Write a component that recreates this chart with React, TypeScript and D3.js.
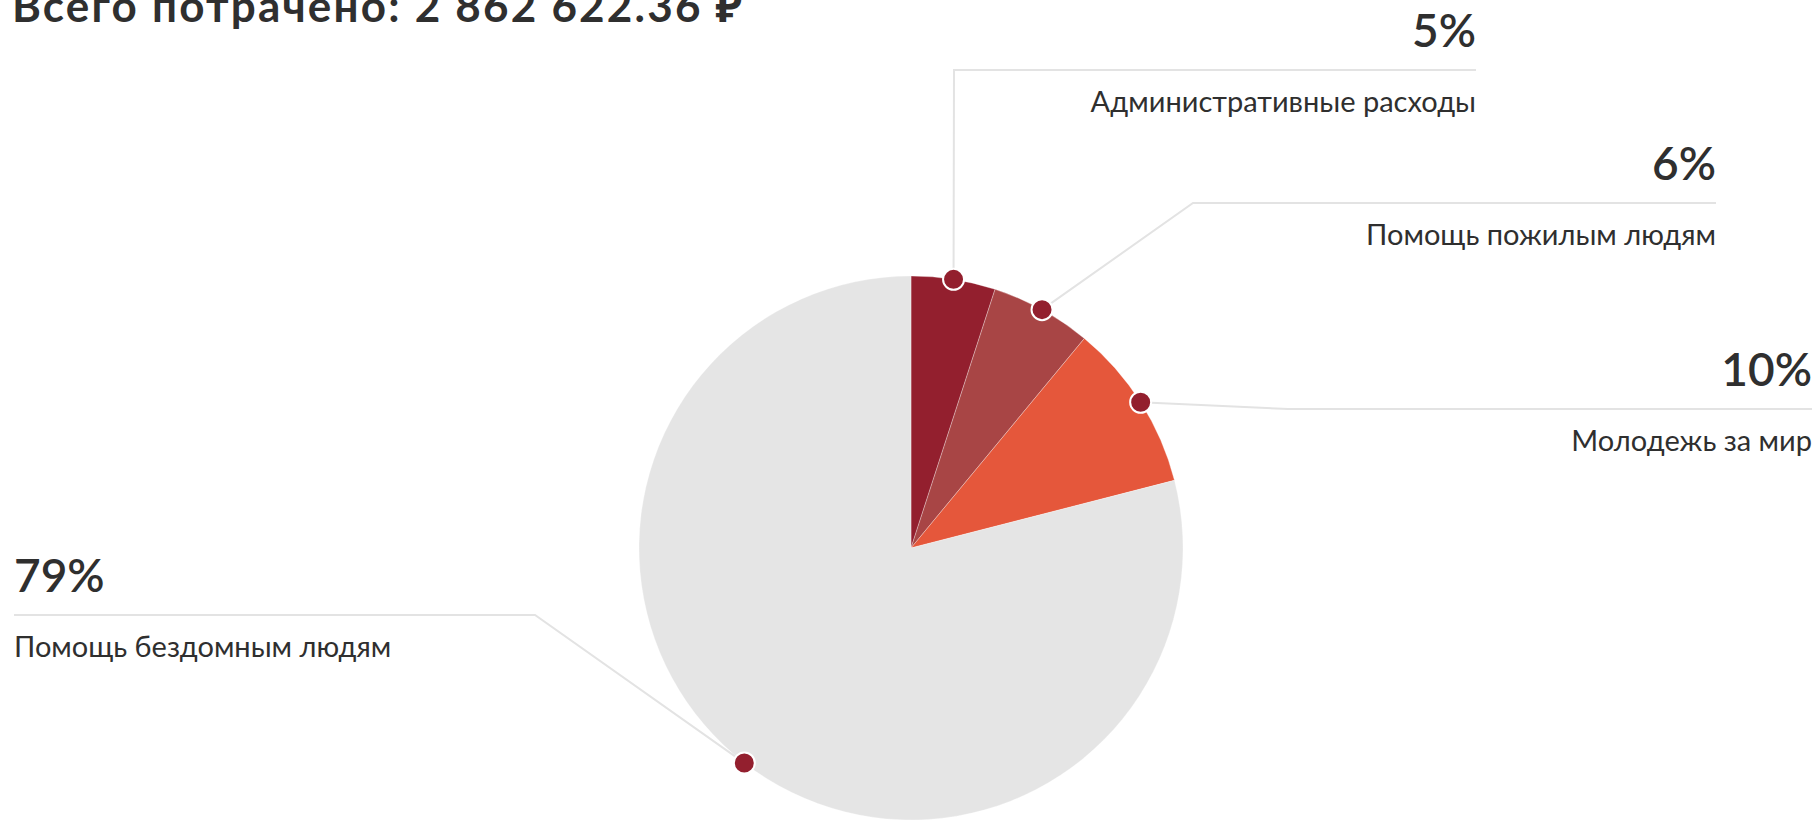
import React from 'react';
import * as d3 from 'd3';

const width = 1820;
const height = 823;

// данные
const categories = [
  'Административные расходы',
  'Помощь пожилым людям',
  'Молодежь за мир',
  'Помощь бездомным людям',
];
const shares = [5, 6, 10, 79];
const sliceColors = ['#931f2e', '#a84545', '#e5573b', '#e5e5e5'];
const totalLabel = 'Всего потрачено: 2 862 622.36 ₽';

// расположение подписей (выноски)
const labelSide = ['right', 'right', 'right', 'left'];
const labelX = [1476, 1716, 1812, 14];
const labelLineY = [70, 203, 409, 615];
const labelElbowX = [954, 1193, 1288, 535];

const cx = 911;
const cy = 548;
const radius = 272;

const App = () => {
  const pie = d3.pie<number>().sort(null).value((d) => d);
  const arcs = pie(shares);

  const arc = d3.arc<d3.PieArcDatum<number>>().innerRadius(0).outerRadius(radius);

  const dotPos = (a: d3.PieArcDatum<number>) => {
    const mid = (a.startAngle + a.endAngle) / 2;
    return [Math.sin(mid) * radius, -Math.cos(mid) * radius];
  };

  const font = "Lato, 'Noto Sans', sans-serif";

  return (
    <svg
      width={width}
      height={height}
      style={{ position: 'absolute', left: 0, top: 0, background: '#fff' }}
    >
      <text x={12} y={22} fontFamily={font} fontWeight={700} fontSize={44} letterSpacing={2.2} fill="#2f2f2f">
        {totalLabel}
      </text>

      <g transform={`translate(${cx},${cy})`}>
        {arcs.map((a, i) => (
          <path key={i} d={arc(a) || ''} fill={sliceColors[i]} stroke="#fff" strokeWidth={0.6} strokeOpacity={0.5} />
        ))}
      </g>

      {/* выноски */}
      {arcs.map((a, i) => {
        const [dx, dy] = dotPos(a);
        const x0 = cx + dx;
        const y0 = cy + dy;
        const path = d3.line()([
          [x0, y0],
          [labelElbowX[i], labelLineY[i]],
          [labelX[i], labelLineY[i]],
        ]);
        return <path key={i} d={path || ''} fill="none" stroke="#e3e3e3" strokeWidth={2} />;
      })}

      {arcs.map((a, i) => {
        const [dx, dy] = dotPos(a);
        return (
          <circle key={i} cx={cx + dx} cy={cy + dy} r={10.5} fill="#931f2e" stroke="#fff" strokeWidth={2} />
        );
      })}

      {arcs.map((a, i) => {
        const anchor = labelSide[i] === 'right' ? 'end' : 'start';
        return (
          <g key={i} fill="#2f2f2f" fontFamily={font}>
            <text x={labelX[i]} y={labelLineY[i] - 23} textAnchor={anchor} fontSize={46} fontWeight={600}>
              {`${shares[i]}%`}
            </text>
            <text x={labelX[i]} y={labelLineY[i] + 42} textAnchor={anchor} fontSize={29} fontWeight={400}>
              {categories[i]}
            </text>
          </g>
        );
      })}
    </svg>
  );
};

export default App;
